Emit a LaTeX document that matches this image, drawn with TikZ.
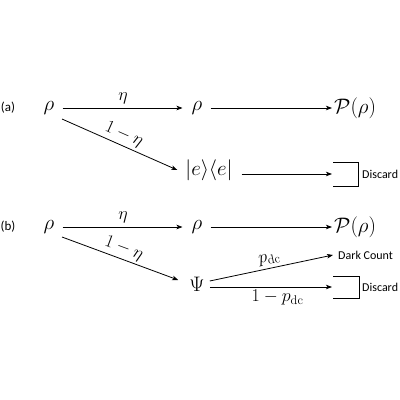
\RequirePackage{fix-cm}
\documentclass[tikz,border=0pt]{standalone}
\usepackage[no-math]{fontspec}
\setmainfont{Carlito}
\usetikzlibrary{arrows.meta,calc}
\begin{document}
\begin{tikzpicture}[x=1pt,y=-1pt,
  st/.style={inner sep=0pt, font=\fontsize{21}{24}\selectfont},
  lbl/.style={inner sep=2.5pt, font=\fontsize{18}{21}\selectfont},
  txt/.style={inner sep=0pt, font=\fontsize{12}{14}\selectfont},
  tag/.style={inner sep=0pt, font=\fontsize{13}{15}\selectfont},
  arr/.style={line width=0.8pt, -{Stealth[length=6pt,width=4.5pt,inset=1.5pt]}},
  brk/.style={line width=1pt}]
\useasboundingbox (0,0) rectangle (400,400);
% ---- (a)
\node[tag] (labA) at (8,108) {(a)};
\node[st] (rA1) at (49,108) {$\rho$};
\node[st] (rA2) at (197,108) {$\rho$};
\node[st, anchor=west] (PA) at (334,108) {$\mathcal{P}(\rho)$};
\node[st] (eA) at (209,170) {$|e\rangle\langle e|$};
\node[txt, anchor=west] (dA) at (362,174) {Discard};
\coordinate (bA1) at (333,162);
\coordinate (bA2) at (358,186);
\draw[brk] (bA1) -| (bA2) -- (bA2 -| bA1);
\draw[arr, shorten <=8pt, shorten >=9pt] (rA1) -- (rA2)
  node[lbl, midway, above=1pt] {$\eta$};
\draw[arr, shorten <=8pt, shorten >=2pt] (rA2) -- (PA);
\coordinate (dA1) at ($(rA1.center)+(13,11)$);
\coordinate (dA2) at ($(eA.west)+(-8,0)$);
\draw[arr] (dA1) -- (dA2)
  node[lbl, midway, sloped, above] {$1-\eta$};
\coordinate (eAout) at ($(eA.east)+(9,4)$);
\draw[arr, shorten >=1pt] (eAout) -- (eAout -| bA1);
% ---- (b)
\node[tag] (labB) at (8,227) {(b)};
\node[st] (rB1) at (49,227) {$\rho$};
\node[st] (rB2) at (197,227) {$\rho$};
\node[st, anchor=west] (PB) at (334,227) {$\mathcal{P}(\rho)$};
\node[st] (Psi) at (197,284) {$\Psi$};
\node[txt, anchor=west] (dcB) at (338,255) {Dark Count};
\node[txt, anchor=west] (dB) at (362,287) {Discard};
\coordinate (bB1) at (333,276);
\coordinate (bB2) at (359,298);
\draw[brk] (bB1) -| (bB2) -- (bB2 -| bB1);
\draw[arr, shorten <=8pt, shorten >=9pt] (rB1) -- (rB2)
  node[lbl, midway, above=1pt] {$\eta$};
\draw[arr, shorten <=8pt, shorten >=2pt] (rB2) -- (PB);
\coordinate (dB1) at ($(rB1.center)+(13,10)$);
\coordinate (dB2) at ($(Psi.west)+(-11,-4)$);
\draw[arr] (dB1) -- (dB2)
  node[lbl, midway, sloped, above] {$1-\eta$};
\coordinate (pUp) at ($(Psi.east)+(5,-3)$);
\coordinate (pDn) at ($(Psi.east)+(5,3)$);
\draw[arr] (pUp) -- ($(dcB.west)+(-5,0)$)
  node[lbl, midway, sloped, above] {$p_{\mathrm{dc}}$};
\draw[arr, shorten >=1pt] (pDn) -- (pDn -| bB1)
  node[lbl, pos=0.55, below] {$1-p_{\mathrm{dc}}$};
\end{tikzpicture}
\end{document}
